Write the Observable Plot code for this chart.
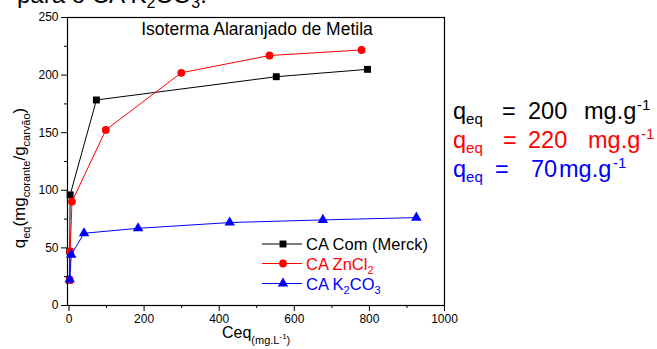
<!DOCTYPE html>
<html>
<head>
<meta charset="utf-8">
<script src="https://cdn.jsdelivr.net/npm/d3@7"></script>
<script src="https://cdn.jsdelivr.net/npm/@observablehq/plot@0.6"></script>
<style>
  html, body { margin: 0; padding: 0; background: #fff; }
  svg { display: block; }
</style>
</head>
<body>
<div id="chart"></div>
<script>
// ---- data ----
const seriesNames = ["CA Com (Merck)", "CA ZnCl2", "CA K2CO3"];
const comX = [1, 2, 3, 73, 552, 795];
const comY = [22, 47, 96, 178.4, 198.6, 205];
const znX = [2, 3, 8, 98, 299, 534, 779];
const znY = [22.3, 47, 90.2, 152.4, 202, 217, 221.8];
const kX = [2, 6, 40, 184, 428, 676, 925];
const kY = [22.5, 44, 62.7, 67, 72, 74.3, 76.3];
const xTicks = [0, 200, 400, 600, 800, 1000];
const xMinor = [100, 300, 500, 700, 900];
const yTicks = [0, 50, 100, 150, 200, 250];
const yMinor = [25, 75, 125, 175, 225];
const qeqValues = ["200", "220", "70"];

const colors = ["#000000", "#ff0000", "#0000ff"];
const symbols = ["square", "circle", "triangle"];
const toRows = (xs, ys, s) => xs.map((x, i) => ({x, y: ys[i], s}));
const rows = [
  ...toRows(comX, comY, seriesNames[0]),
  ...toRows(znX, znY, seriesNames[1]),
  ...toRows(kX, kY, seriesNames[2])
];

const font = "'Liberation Sans', Arial, sans-serif";
const plain = d => String(d);

const chart = Plot.plot({
  width: 657,
  height: 349,
  marginLeft: 67,
  marginRight: 213,
  marginTop: 17,
  marginBottom: 44,
  style: {fontFamily: font, fontSize: "12px", background: "white", color: "black"},
  x: {domain: [-4, 1000], label: null},
  y: {domain: [0, 250], label: null},
  color: {domain: seriesNames, range: colors},
  symbol: {domain: seriesNames, range: symbols},
  marks: [
    Plot.axisX({ticks: xTicks, tickSize: 6, tickPadding: 3, label: null, fontSize: 12, tickFormat: plain}),
    Plot.axisX({ticks: xMinor, tickSize: 3, tickFormat: () => "", label: null}),
    Plot.axisY({ticks: yTicks, tickSize: 6, tickPadding: 3, label: null, fontSize: 12, tickFormat: plain}),
    Plot.axisY({ticks: yMinor, tickSize: 3, tickFormat: () => "", label: null}),
    Plot.frame({stroke: "black", strokeWidth: 1.2}),
    Plot.line(rows, {x: "x", y: "y", z: "s", stroke: "s", strokeWidth: 1}),
    Plot.dot(rows, {x: "x", y: "y", fill: "s", symbol: "s", r: 3.9, stroke: "none"})
  ]
});
document.getElementById("chart").appendChild(chart);

// ---- rich text (sub/superscripts) ----
const svg = d3.select(chart);
const g = svg.append("g").attr("font-family", font);

function rich(parent, x, y, parts, opts = {}) {
  const t = parent.append("text")
    .attr("x", x).attr("y", y)
    .attr("fill", opts.fill || "black")
    .attr("font-size", opts.size || 16)
    .attr("text-anchor", opts.anchor || "start")
    .style("white-space", "pre");
  if (opts.transform) t.attr("transform", opts.transform);
  let shift = 0;
  for (const p of parts) {
    const ts = t.append("tspan").text(p.t);
    const target = p.dy || 0;
    if (target !== shift) { ts.attr("dy", target - shift); shift = target; }
    if (p.size) ts.attr("font-size", p.size);
    if (p.x != null) ts.attr("x", p.x);
  }
  return t;
}

// cut-off text at the very top
rich(g, 17, 3, [
  {t: "para o CA K"}, {t: "2", size: 16, dy: 5}, {t: "CO"}, {t: "3", size: 16, dy: 5}, {t: "."}
], {size: 24});

// title inside the frame
rich(g, 257, 35, [{t: "Isoterma Alaranjado de Metila"}], {size: 17.5, anchor: "middle"});

// y label
rich(g, 0, 0, [
  {t: "q"}, {t: "eq", size: 11, dy: 5}, {t: "(mg"}, {t: "corante", size: 11, dy: 5},
  {t: "/g"}, {t: "carvão", size: 11, dy: 5}, {t: ")"}
], {size: 17, anchor: "middle", transform: "translate(25,178) rotate(-90)"});

// x label
rich(g, 222, 338, [
  {t: "Ceq"}, {t: "(mg.L", size: 11, dy: 6}, {t: "-1", size: 8, dy: 1}, {t: ")", size: 11, dy: 6}
], {size: 16});

// legend
const legY = [244, 263.5, 283.5];
const legendLabels = [
  [{t: "CA Com (Merck)"}],
  [{t: "CA ZnCl"}, {t: "2", size: 11, dy: 4}],
  [{t: "CA K"}, {t: "2", size: 11, dy: 4}, {t: "CO"}, {t: "3", size: 11, dy: 4}]
];
const symGen = [d3.symbolSquare, d3.symbolCircle, d3.symbolTriangle];
legY.forEach((y, i) => {
  g.append("line").attr("x1", 262).attr("x2", 302).attr("y1", y).attr("y2", y)
    .attr("stroke", colors[i]).attr("stroke-width", 1);
  g.append("path").attr("transform", `translate(283,${y})`)
    .attr("d", d3.symbol(symGen[i], Math.PI * 3.9 * 3.9)())
    .attr("fill", colors[i]);
  rich(g, 306, y + 6, legendLabels[i], {size: 16.5, fill: colors[i]});
});

// q_eq annotations on the right
const annY = [119, 148, 177];
const annX = [
  {eq: 502, val: 528, unit: 584, sup: 637},
  {eq: 503, val: 528, unit: 588, sup: 641},
  {eq: 495, val: 531, unit: 559, sup: 613}
];
annY.forEach((y, i) => {
  const a = annX[i];
  rich(g, 453, y, [
    {t: "q"}, {t: "eq", size: 15, dy: 5},
    {t: "=", x: a.eq, dy: 0}, {t: qeqValues[i], x: a.val}, {t: "mg.g", x: a.unit},
    {t: "-1", size: 15, dy: -9, x: a.sup}
  ], {size: 23.5, fill: colors[i]});
});
</script>
</body>
</html>
